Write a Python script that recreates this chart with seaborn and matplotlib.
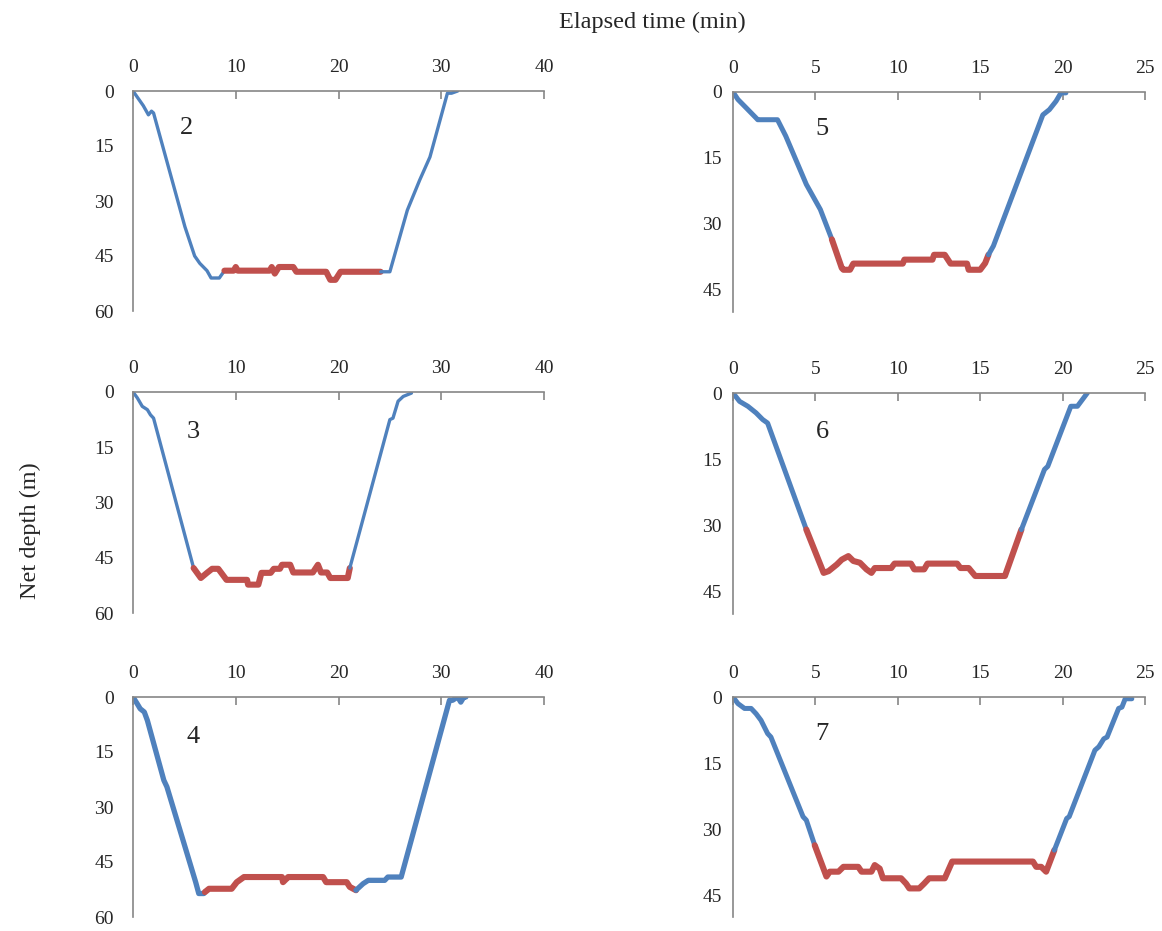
import numpy as np
import pandas as pd
import matplotlib
matplotlib.use("Agg")
import matplotlib.pyplot as plt
import seaborn as sns

# ---- dive profiles: elapsed time (min) and net depth (m) ----
dive2_time = [0, 0.5, 1.0, 1.5, 1.8, 2.0, 5.05, 6.0, 6.5, 7.2, 7.6, 8.4, 8.9, 9.8, 10.0, 10.2,
              13.3, 13.5, 13.8, 14.2, 15.6, 15.9, 18.8, 19.2, 19.7, 20.2, 24.1, 25.0, 26.7,
              27.9, 28.9, 30.6, 31.0, 31.6]
dive2_depth = [0, 2, 4, 6.5, 5.5, 6, 37, 45, 47, 49, 51, 51, 49, 49, 48, 49,
               49, 48, 49.8, 48, 48, 49.3, 49.3, 51.5, 51.5, 49.3, 49.3, 49.3, 32.5,
               24.3, 18, 0.6, 0.6, 0]
dive2_bottom = (8.9, 24.1)

dive3_time = [0, 0.42, 0.9, 1.4, 1.7, 2.0, 5.9, 6.6, 7.2, 7.7, 8.3, 9.1, 11.1, 11.2, 12.2,
              12.5, 13.4, 13.7, 14.3, 14.5, 15.3, 15.6, 17.5, 18.0, 18.3, 18.9, 19.2, 20.9,
              21.1, 25.0, 25.3, 25.8, 26.3, 27.1]
dive3_depth = [0, 1.6, 3.9, 4.8, 6.2, 7.1, 47.8, 50.5, 49.1, 48, 48, 51, 51, 52.3, 52.3,
               49.1, 49.1, 48, 48, 46.9, 46.9, 49, 49, 46.9, 49, 49, 50.5, 50.5,
               47.8, 7.5, 7.1, 2.5, 1.2, 0.3]
dive3_bottom = (5.9, 21.1)

dive4_time = [0, 0.4, 0.7, 1.1, 1.4, 3.0, 3.3, 6.1, 6.4, 6.9, 7.0, 7.4, 9.6, 10.1, 10.8,
              14.5, 14.6, 14.96, 15.1, 18.5, 18.8, 20.8, 21.1, 21.7, 22.4, 22.9, 24.5,
              24.8, 26.1, 30.8, 31.1, 31.6, 31.9, 32.2, 32.4]
dive4_depth = [0, 1.8, 3.2, 4.1, 6.4, 22.7, 24.5, 50.5, 53.6, 53.6, 53.2, 52.3, 52.3, 50.5, 49.1,
               49.1, 50.5, 49.5, 49.1, 49.1, 50.5, 50.5, 51.8, 52.7, 50.9, 50, 50,
               49.1, 49.1, 0.9, 0.9, 0, 1.4, 0, 0]
dive4_bottom = (7.0, 21.7)

dive5_time = [0, 0.3, 0.8, 1.4, 1.5, 2.7, 3.2, 4.45, 5.3, 6.0, 6.6, 6.7, 7.1, 7.3, 10.3,
              10.4, 12.1, 12.2, 12.85, 13.2, 14.2, 14.3, 15.0, 15.3, 15.5, 15.8, 18.8,
              19.2, 19.6, 19.9, 20.2]
dive5_depth = [0, 1.7, 3.6, 5.9, 6.3, 6.3, 10, 21, 26.7, 33.5, 40, 40.4, 40.4, 39, 39,
               38.1, 38.1, 37, 37, 39, 39, 40.4, 40.4, 38.9, 37, 35, 5.2,
               4, 2.1, 0.2, 0.2]
dive5_bottom = (6.0, 15.5)

dive6_time = [0, 0.4, 0.9, 1.4, 1.8, 2.1, 4.45, 5.5, 5.8, 6.3, 6.6, 7.0, 7.3, 7.7, 8.1,
              8.4, 8.6, 9.6, 9.8, 10.8, 11.0, 11.6, 11.8, 13.6, 13.8, 14.3, 14.7, 16.5,
              17.5, 18.9, 19.1, 20.5, 20.9, 21.2, 21.5]
dive6_depth = [0, 1.9, 3, 4.5, 6, 6.8, 30.9, 40.7, 40.3, 38.8, 37.7, 36.9, 38, 38.4, 39.9,
               40.7, 39.6, 39.6, 38.6, 38.6, 39.9, 39.9, 38.6, 38.6, 39.6, 39.6, 41.4, 41.4,
               30.9, 17.3, 16.6, 3, 3, 1.5, 0]
dive6_bottom = (4.45, 17.5)

dive7_time = [0, 0.3, 0.7, 1.1, 1.4, 1.7, 2.1, 2.3, 4.25, 4.45, 4.96, 5.67, 5.87, 6.4, 6.7,
              7.6, 7.8, 8.4, 8.6, 8.9, 9.1, 10.2, 10.5, 10.7, 11.3, 11.6, 11.9, 12.85,
              13.3, 18.2, 18.4, 18.7, 19.0, 19.5, 20.25, 20.4, 21.96, 22.2, 22.5, 22.7,
              23.4, 23.6, 23.8, 24.2]
dive7_depth = [0, 1.5, 2.6, 2.6, 3.8, 5.3, 8.3, 9.1, 27.2, 28, 33.7, 40.8, 39.7, 39.7, 38.6,
               38.6, 39.7, 39.7, 38.2, 39, 41.2, 41.2, 42.4, 43.5, 43.5, 42.4, 41.2, 41.2,
               37.4, 37.4, 38.6, 38.6, 39.7, 34.8, 27.6, 27.2, 12.1, 11.3, 9.5, 9.1,
               2.6, 2.3, 0.4, 0.4]
dive7_bottom = (4.96, 19.5)

left_xticks = [0, 10, 20, 30, 40]
left_yticks = [0, 15, 30, 45, 60]
right_xticks = [0, 5, 10, 15, 20, 25]
right_yticks = [0, 15, 30, 45]

BLUE = "#4F81BD"
RED = "#C0504D"
SPINE = "#868686"

sns.set_style("white")
plt.rcParams["font.family"] = ["Liberation Serif", "DejaVu Serif"]

W, H = 1162, 931
fig = plt.figure(figsize=(W / 100, H / 100), dpi=100)


def add_axes_px(left, top, right, bottom):
    return fig.add_axes([left / W, 1 - bottom / H, (right - left) / W, (bottom - top) / H])


def split_phases(time, depth, bottom):
    t = np.asarray(time, float)
    d = np.asarray(depth, float)
    b0, b1 = bottom
    i0 = int(np.argmin(np.abs(t - b0)))
    i1 = int(np.argmin(np.abs(t - b1)))
    return [
        ("descent", t[: i0 + 1], d[: i0 + 1]),
        ("bottom", t[i0: i1 + 1], d[i0: i1 + 1]),
        ("ascent", t[i1:], d[i1:]),
    ]


def draw_dive(ax, label, time, depth, bottom, xlim, ylim, xticks, yticks, lw_blue,
              label_pos, ypad):
    for phase, t, d in split_phases(time, depth, bottom):
        df = pd.DataFrame({"time": t, "depth": d})
        color = RED if phase == "bottom" else BLUE
        lw = 4.4 if phase == "bottom" else lw_blue
        sns.lineplot(data=df, x="time", y="depth", ax=ax, sort=False, estimator=None,
                     color=color, linewidth=lw, legend=False,
                     solid_joinstyle="round", solid_capstyle="round")
    ax.set_xlim(*xlim)
    ax.set_ylim(ylim[1], ylim[0])
    ax.set_xticks(xticks)
    ax.set_yticks(yticks)
    ax.set_xlabel("")
    ax.set_ylabel("")
    ax.xaxis.tick_top()
    for side in ("right", "bottom"):
        ax.spines[side].set_visible(False)
    for side in ("top", "left"):
        ax.spines[side].set_color(SPINE)
        ax.spines[side].set_linewidth(1.2)
    ax.tick_params(axis="x", direction="in", length=6, width=1.2, color=SPINE,
                   labelsize=14, pad=11, top=True, bottom=False)
    ax.tick_params(axis="y", direction="in", length=6, width=1.2, color=SPINE,
                   labelsize=14, pad=ypad)
    ax.text(label_pos[0], label_pos[1], label, transform=ax.transAxes, fontsize=19,
            ha="center", va="center")
    ax.patch.set_alpha(0)


ax2 = add_axes_px(133, 91, 544, 311)
draw_dive(ax2, "2", dive2_time, dive2_depth, dive2_bottom, (0, 40), (0, 60),
          left_xticks, left_yticks, 2.4, (0.131, 0.83), 14)
ax3 = add_axes_px(133, 392, 544, 613)
draw_dive(ax3, "3", dive3_time, dive3_depth, dive3_bottom, (0, 40), (0, 60),
          left_xticks, left_yticks, 2.4, (0.146, 0.82), 14)
ax4 = add_axes_px(133, 697, 544, 917)
draw_dive(ax4, "4", dive4_time, dive4_depth, dive4_bottom, (0, 40), (0, 60),
          left_xticks, left_yticks, 3.8, (0.146, 0.82), 14)

ax5 = add_axes_px(733, 92, 1145, 312)
draw_dive(ax5, "5", dive5_time, dive5_depth, dive5_bottom, (0, 25), (0, 50),
          right_xticks, right_yticks, 3.6, (0.216, 0.83), 8)
ax6 = add_axes_px(733, 393, 1145, 614)
draw_dive(ax6, "6", dive6_time, dive6_depth, dive6_bottom, (0, 25), (0, 50),
          right_xticks, right_yticks, 3.6, (0.216, 0.823), 8)
ax7 = add_axes_px(733, 697, 1145, 917)
draw_dive(ax7, "7", dive7_time, dive7_depth, dive7_bottom, (0, 25), (0, 50),
          right_xticks, right_yticks, 3.6, (0.216, 0.83), 8)

fig.text(652 / W, 1 - 22 / H, "Elapsed time (min)", ha="center", va="center", fontsize=17.5)
fig.text(30 / W, 1 - 531 / H, "Net depth (m)", ha="center", va="center", rotation=90,
         fontsize=17.5)

fig.savefig("out.png", dpi=100, facecolor="white")
